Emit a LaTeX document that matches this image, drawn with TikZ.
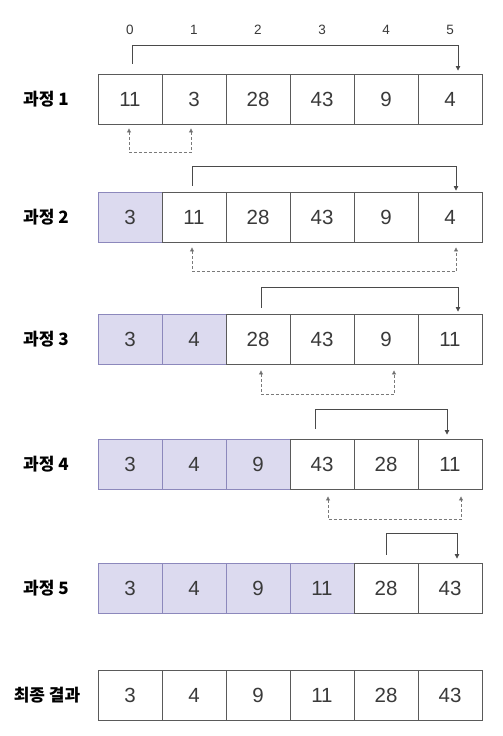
\documentclass[tikz,border=0pt]{standalone}
\usepackage{fontspec}
\setmainfont{Liberation Sans}
\newfontfamily\kr{Noto Sans CJK KR}
\usetikzlibrary{arrows.meta}
\definecolor{cellline}{HTML}{5A5A5A}
\definecolor{donefill}{HTML}{DCDAEF}
\definecolor{doneline}{HTML}{8C88BC}
\definecolor{numtext}{HTML}{3A3A3A}
\definecolor{linkline}{HTML}{4A4A4A}
\definecolor{dashline}{HTML}{7A7A7A}
\tikzset{
  cell/.style={draw=cellline, line width=0.9pt, minimum width=64pt, minimum height=50pt, inner sep=0pt, text=numtext, font=\fontsize{20.5}{20.5}\selectfont},
  done/.style={cell, draw=doneline, fill=donefill},
  idx/.style={text=numtext, font=\fontsize{13.5}{13.5}\selectfont, inner sep=0pt},
  rowlabel/.style={font=\kr\bfseries\fontsize{17}{17}\selectfont, inner sep=0pt},
  swapline/.style={draw=linkline, line width=0.8pt, -{Triangle[width=4.5pt,length=4.5pt]}},
  pairline/.style={draw=dashline, line width=0.8pt, dash pattern=on 3pt off 2pt, {Triangle[width=4pt,length=4pt,fill=linkline]}-{Triangle[width=4pt,length=4pt,fill=linkline]}}
}
\begin{document}
\begin{tikzpicture}[x=1pt,y=1pt]
\useasboundingbox (0,0) rectangle (503,736);
\fill[white] (0,0) rectangle (503,736);
% index labels
\foreach \c in {0,...,5} {
  \node[idx] (idx\c) at ({130+64*\c},706) {\c};
}
% rows
\foreach \r/\y/\k/\v in {1/637/0/{11,3,28,43,9,4}, 2/519/1/{3,11,28,43,9,4}, 3/397/2/{3,4,28,43,9,11}, 4/272/3/{3,4,9,43,28,11}, 5/148/4/{3,4,9,11,28,43}, 6/41/0/{3,4,9,11,28,43}} {
  \foreach \x [count=\c from 0] in \v {
    \ifnum\c<\k
      \node[done] (r\r c\c) at ({130+64*\c},\y) {\x};
    \else
      \node[cell] (r\r c\c) at ({130+64*\c},\y) {\x};
    \fi
  }
}
% row labels
\node[rowlabel] (l1) at (46,637) {과정 1};
\node[rowlabel] (l2) at (46,519) {과정 2};
\node[rowlabel] (l3) at (46,397) {과정 3};
\node[rowlabel] (l4) at (46,272) {과정 4};
\node[rowlabel] (l5) at (46,148) {과정 5};
\node[rowlabel] (l6) at (47,41) {최종 결과};
% swap brackets (solid)
\draw[swapline] ([xshift=2pt,yshift=10pt]r1c0.north) -- ([xshift=2pt,yshift=28pt]r1c0.north) -| ([xshift=8pt,yshift=3pt]r1c5.north);
\draw[swapline] ([xshift=-2pt,yshift=6pt]r2c1.north) -- ([xshift=-2pt,yshift=25pt]r2c1.north) -| ([xshift=6pt,yshift=1pt]r2c5.north);
\draw[swapline] ([xshift=3pt,yshift=6pt]r3c2.north) -- ([xshift=3pt,yshift=26pt]r3c2.north) -| ([xshift=8pt,yshift=2pt]r3c5.north);
\draw[swapline] ([xshift=-7pt,yshift=10pt]r4c3.north) -- ([xshift=-7pt,yshift=29pt]r4c3.north) -| ([xshift=-3pt,yshift=4pt]r4c5.north);
\draw[swapline] ([xshift=0pt,yshift=8pt]r5c4.north) -- ([xshift=0pt,yshift=29pt]r5c4.north) -| ([xshift=7pt,yshift=4pt]r5c5.north);
% compared pairs (dashed)
\draw[pairline] ([xshift=-1pt,yshift=-4pt]r1c0.south) -- ([xshift=-1pt,yshift=-28pt]r1c0.south) -| ([xshift=-3pt,yshift=-4pt]r1c1.south);
\draw[pairline] ([xshift=-2pt,yshift=-5pt]r2c1.south) -- ([xshift=-2pt,yshift=-29pt]r2c1.south) -| ([xshift=6pt,yshift=-5pt]r2c5.south);
\draw[pairline] ([xshift=3pt,yshift=-6pt]r3c2.south) -- ([xshift=3pt,yshift=-30pt]r3c2.south) -| ([xshift=8pt,yshift=-6pt]r3c4.south);
\draw[pairline] ([xshift=6pt,yshift=-7pt]r4c3.south) -- ([xshift=6pt,yshift=-30pt]r4c3.south) -| ([xshift=11pt,yshift=-7pt]r4c5.south);
\end{tikzpicture}
\end{document}
